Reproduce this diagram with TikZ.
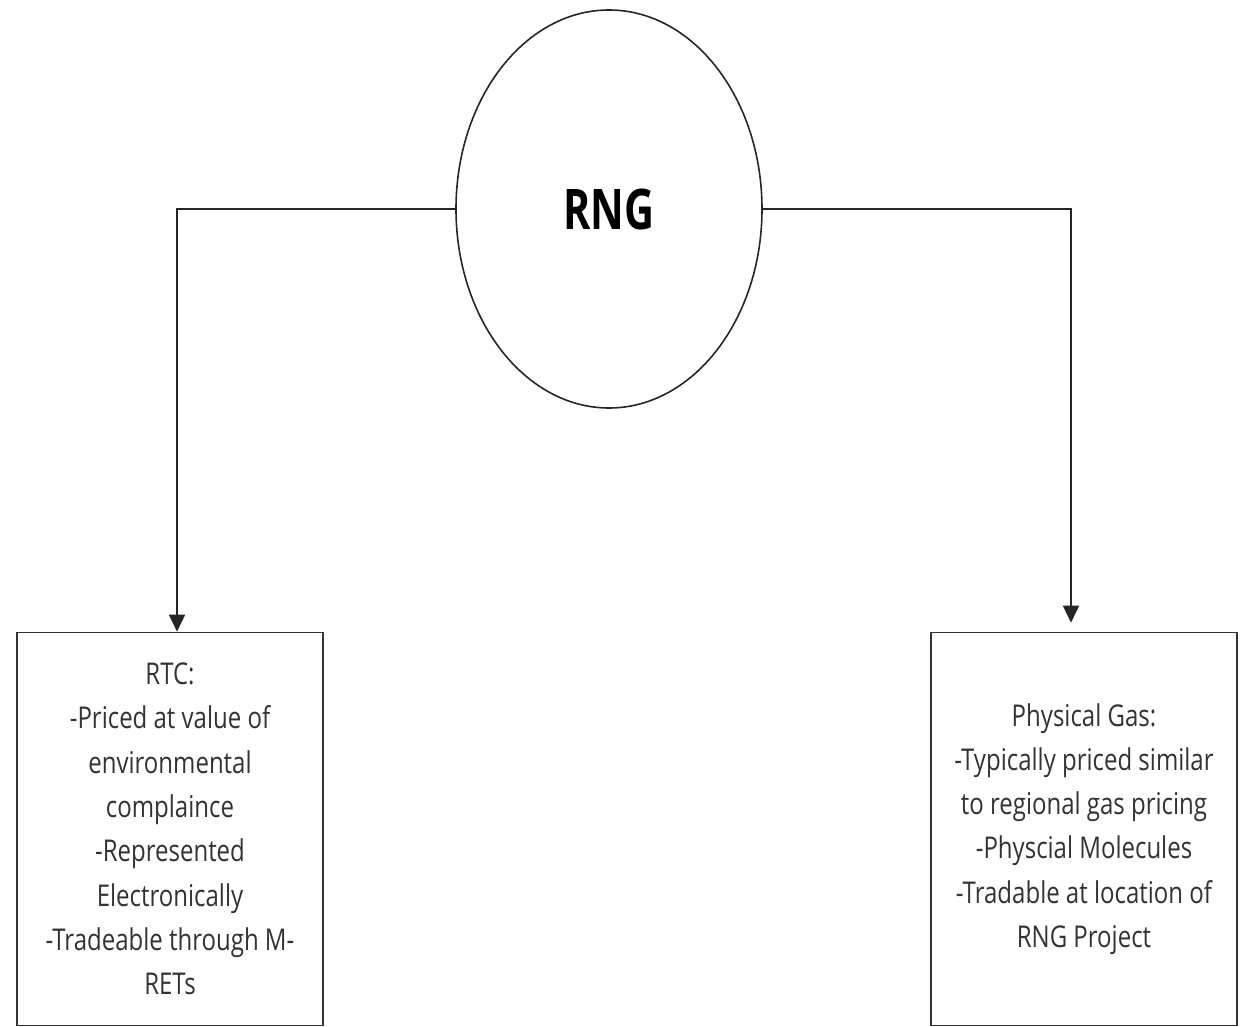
\documentclass[tikz,border=0pt]{standalone}
\usepackage{fontspec}
\setmainfont{Open Sans}
\usepackage{tikz}
\usetikzlibrary{shapes.geometric,arrows.meta}
\tikzstyle{hub} = [draw=black!85, line width=1.6pt, ellipse, minimum width=306pt, minimum height=398pt, inner sep=0pt, font={\fontsize{56}{60}\selectfont\bfseries}]
\tikzstyle{infobox} = [draw=black!80, line width=1.6pt, minimum width=382pt, minimum height=393pt, align=center, xscale=0.8, transform shape, text=black!80, font={\fontsize{30}{44.3}\selectfont}]
\tikzstyle{feed} = [draw=black!85, line width=1.6pt, -{Triangle[width=16pt,length=17pt]}]

\begin{document}
\begin{tikzpicture}[x=1pt,y=-1pt]
    \useasboundingbox (0,0) rectangle (1245,1027);
    \node[hub](rng) at (609,209){\scalebox{0.74}[1]{RNG}};
    \node[infobox](rtc) at (170,829){RTC:\\-Priced at value of\\environmental\\complaince\\-Represented\\Electronically\\-Tradeable through M-\\RETs};
    \node[infobox](gas) at (1084,829){Physical Gas:\\-Typically priced similar\\to regional gas pricing\\-Physcial Molecules\\-Tradable at location of\\RNG Project};
    \draw[feed](rng.west) -| ([xshift=7pt]rtc.north);
    \draw[feed](rng.east) -| ([xshift=-13pt,yshift=9pt]gas.north);
  \end{tikzpicture}
\end{document}
